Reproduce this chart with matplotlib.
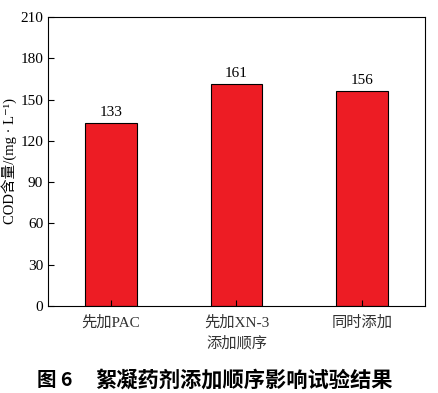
import matplotlib
matplotlib.use("Agg")
import matplotlib.pyplot as plt

plt.rcParams['font.family'] = ['Liberation Serif', 'Noto Sans CJK SC', 'DejaVu Sans']

categories = ["先加PAC", "先加XN-3", "同时添加"]
cod_values = [133, 161, 156]
y_ticks = [0, 30, 60, 90, 120, 150, 180, 210]

fig = plt.figure(figsize=(4.39, 3.93), dpi=100)
ax = fig.add_axes([48 / 439, 87 / 393, 377 / 439, 289 / 393])

x = range(len(categories))
ax.bar(x, cod_values, width=0.41, color="#ED1C24", edgecolor="black", linewidth=0.8)
for xi, v in zip(x, cod_values):
    ax.text(xi, v + 3, str(v), ha="center", va="bottom", fontsize=11)

ax.set_xlim(-0.5, 2.5)
ax.set_ylim(0, 210)
ax.set_yticks(y_ticks)
ax.set_xticks(list(x))
ax.set_xticklabels(categories, fontsize=11, color="#333333")
ax.tick_params(direction="in", length=4, width=0.8, labelsize=11)
ax.tick_params(axis="x", pad=7, labelsize=11)
for s in ax.spines.values():
    s.set_linewidth(0.8)

ax.set_xlabel("添加顺序", fontsize=11, color="#333333", labelpad=4)
ax.set_ylabel("COD含量/(mg · L⁻¹)", fontsize=10.5, labelpad=2)

fig.text(37 / 439, 1 - 380 / 393, "图 6", fontsize=14, fontweight="bold",
         ha="left", va="center", family=['Noto Sans CJK SC', 'DejaVu Sans'])
fig.text(95 / 439, 1 - 380 / 393, "絮凝药剂添加顺序影响试验结果", fontsize=15.3,
         fontweight="bold", ha="left", va="center",
         family=['Noto Sans CJK SC', 'DejaVu Sans'])

fig.savefig("out.png", dpi=100)
